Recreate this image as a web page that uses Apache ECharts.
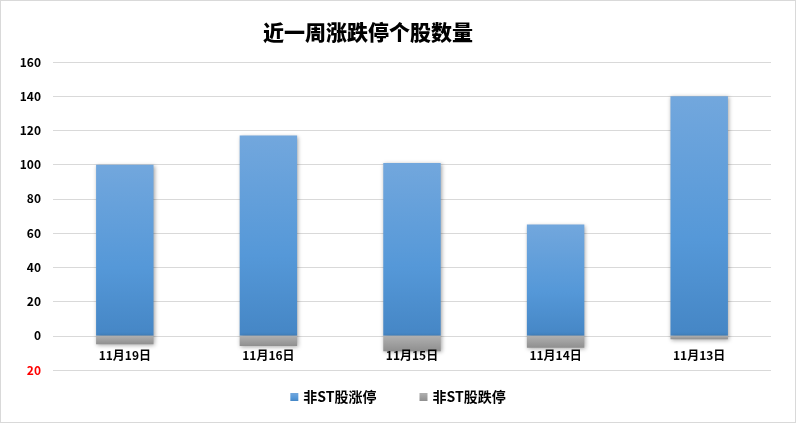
<!DOCTYPE html>
<html>
<head>
<meta charset="utf-8">
<script src="https://cdn.jsdelivr.net/npm/echarts@6/dist/echarts.min.js"></script>
<style>
html,body{margin:0;padding:0;background:#fff;}
#c{width:796px;height:423px;box-sizing:border-box;border:1px solid #d9d9d9;}
</style>
</head>
<body>
<div id="c"></div>
<script>
var categories = ['11月19日','11月16日','11月15日','11月14日','11月13日'];
var limitUp = [100, 117, 101, 65, 140];
var limitDown = [-5, -6, -9, -7, -2];
var seriesNames = ['非ST股涨停','非ST股跌停'];
var titleText = '近一周涨跌停个股数量';

var chart = echarts.init(document.getElementById('c'));
var font = '"Noto Sans CJK SC", "Noto Sans", sans-serif';
var gridTop = 61, gridBottom = 52, yMin = -20, yMax = 160;
var gridH = 423 - gridTop - gridBottom;
var zeroOffset = -gridH * (0 - yMin) / (yMax - yMin);
chart.setOption({
  backgroundColor: '#fff',
  animation: false,
  title: {
    text: titleText, left: 362, top: 16, textAlign: 'center',
    textStyle: {fontFamily: font, fontWeight: 900, fontSize: 21, color: '#000'}
  },
  legend: {
    data: seriesNames, bottom: 13, left: 'center', itemGap: 43,
    itemWidth: 8, itemHeight: 8, icon: 'rect',
    textStyle: {fontFamily: font, fontWeight: 'bold', fontSize: 14, color: '#000'}
  },
  grid: {left: 52, right: 24, top: gridTop, bottom: gridBottom},
  xAxis: {
    type: 'category', data: categories, position: 'bottom', offset: zeroOffset, z: 10,
    axisLine: {show: false, onZero: false}, axisTick: {show: false},
    axisLabel: {margin: 14, fontFamily: font, fontWeight: 'bold', fontSize: 12, color: '#000'}
  },
  yAxis: {
    type: 'value', min: yMin, max: yMax, interval: 20,
    axisLine: {show: false}, axisTick: {show: false},
    splitLine: {lineStyle: {color: '#d9d9d9', width: 1}},
    axisLabel: {
      margin: 12, fontFamily: font, fontWeight: 'bold', fontSize: 12, color: '#000',
      formatter: function (v) { return v < 0 ? '{r|' + Math.abs(v) + '}' : String(v); },
      rich: {r: {color: '#ff0000', fontFamily: font, fontWeight: 'bold', fontSize: 12}}
    }
  },
  series: [
    {
      name: seriesNames[0], type: 'bar', stack: 'a', barWidth: '40%', data: limitUp,
      itemStyle: {
        color: new echarts.graphic.LinearGradient(0, 0, 0, 1, [
          {offset: 0, color: '#72a7dd'}, {offset: 0.6, color: '#5598d8'}, {offset: 1, color: '#4586c5'}
        ]),
        shadowBlur: 4, shadowColor: 'rgba(0,0,0,0.35)', shadowOffsetX: 1, shadowOffsetY: 1
      }
    },
    {
      name: seriesNames[1], type: 'bar', stack: 'a', barWidth: '40%', data: limitDown,
      itemStyle: {
        color: new echarts.graphic.LinearGradient(0, 0, 0, 1, [
          {offset: 0, color: '#b0b0b0'}, {offset: 1, color: '#8f8f8f'}
        ]),
        shadowBlur: 4, shadowColor: 'rgba(0,0,0,0.35)', shadowOffsetX: 1, shadowOffsetY: 1
      }
    }
  ]
});
</script>
</body>
</html>
